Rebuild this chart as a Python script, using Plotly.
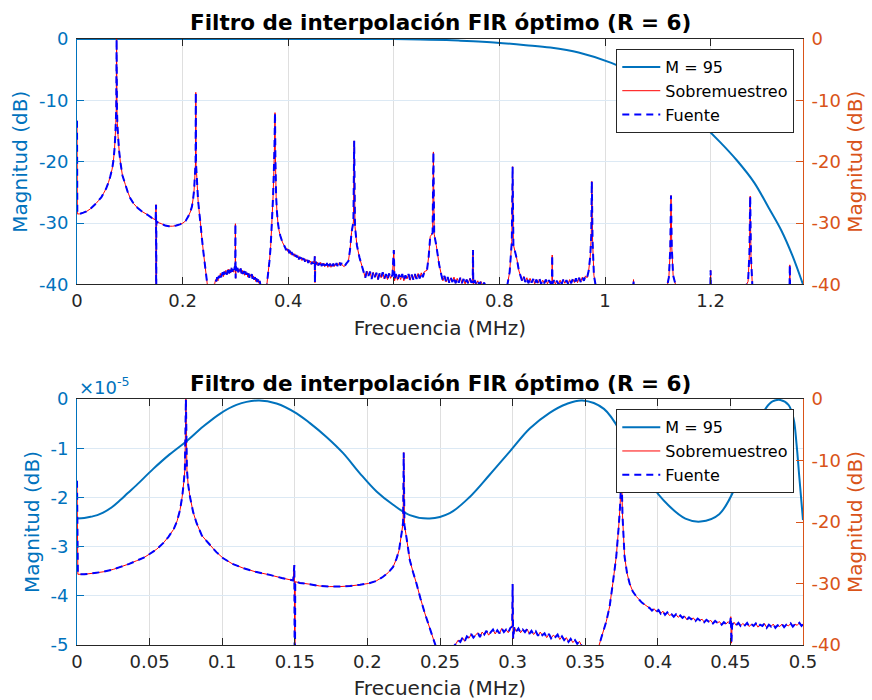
import plotly.graph_objects as go

# Spectrum of the interpolated signal (MHz, dB)
freq_mhz = [
    0.0, 0.0006, 0.005, 0.012, 0.018, 0.025, 0.030, 0.036,
    0.041, 0.046, 0.050, 0.055, 0.0595, 0.063, 0.0665, 0.069,
    0.071, 0.0725, 0.0735, 0.0743, 0.0750, 0.0757, 0.0765, 0.0778,
    0.080, 0.0824, 0.086, 0.0915, 0.096, 0.1007, 0.107, 0.1145,
    0.123, 0.1328, 0.141, 0.1489, 0.1497, 0.1500, 0.1503, 0.1535,
    0.160, 0.167, 0.174, 0.181, 0.188, 0.195, 0.2005, 0.206,
    0.2108, 0.2145, 0.2177, 0.220, 0.2218, 0.2237, 0.2246, 0.2250,
    0.2255, 0.2269, 0.2292, 0.2315, 0.2338, 0.2365, 0.2395, 0.243,
    0.2464, 0.249, 0.253, 0.257, 0.2595, 0.2610, 0.2625, 0.2640,
    0.2655, 0.2670, 0.2685, 0.2700, 0.2715, 0.2730, 0.2745, 0.2760,
    0.2775, 0.2790, 0.2805, 0.2820, 0.2835, 0.2850, 0.2865, 0.2880,
    0.2895, 0.2910, 0.2925, 0.2940, 0.2955, 0.2970, 0.2985, 0.2997,
    0.3000, 0.3004, 0.3012, 0.3025, 0.3040, 0.3055, 0.3070, 0.3085,
    0.3100, 0.3115, 0.3130, 0.3145, 0.3160, 0.3175, 0.3190, 0.3205,
    0.3220, 0.3235, 0.3250, 0.3265, 0.3280, 0.3295, 0.3310, 0.3325,
    0.3340, 0.3355, 0.3370, 0.3385, 0.3400, 0.3415, 0.3430, 0.3445,
    0.3460, 0.3475, 0.352, 0.356, 0.3595, 0.3615, 0.3645, 0.3668,
    0.369, 0.3714, 0.3730, 0.3740, 0.3750, 0.3757, 0.3771, 0.3788,
    0.3806, 0.3828, 0.3852, 0.389, 0.3944, 0.3960, 0.3975, 0.3990,
    0.4005, 0.4020, 0.4035, 0.4050, 0.4065, 0.4080, 0.4095, 0.4110,
    0.4125, 0.4140, 0.4155, 0.4170, 0.4185, 0.4200, 0.4215, 0.4230,
    0.4245, 0.4260, 0.4275, 0.4290, 0.4305, 0.4320, 0.4335, 0.4350,
    0.4365, 0.4380, 0.4395, 0.4410, 0.4425, 0.4440, 0.4455, 0.4470,
    0.4485, 0.4497, 0.4503, 0.4507, 0.4512, 0.4525, 0.4540, 0.4555,
    0.4570, 0.4585, 0.4600, 0.4615, 0.4630, 0.4645, 0.4660, 0.4675,
    0.4690, 0.4705, 0.4720, 0.4735, 0.4750, 0.4765, 0.4780, 0.4795,
    0.4810, 0.4825, 0.4840, 0.4855, 0.4870, 0.4885, 0.4900, 0.4915,
    0.4930, 0.4945, 0.4960, 0.4975, 0.4990, 0.5005, 0.5020, 0.506,
    0.510, 0.514, 0.517, 0.520, 0.5235, 0.5250, 0.5265, 0.5301,
    0.535, 0.5427, 0.546, 0.549, 0.552, 0.555, 0.558, 0.561,
    0.564, 0.567, 0.570, 0.573, 0.576, 0.579, 0.582, 0.585,
    0.588, 0.591, 0.594, 0.5975, 0.6000, 0.6015, 0.604, 0.607,
    0.610, 0.613, 0.616, 0.619, 0.622, 0.625, 0.628, 0.631,
    0.634, 0.637, 0.640, 0.643, 0.646, 0.649, 0.652, 0.655,
    0.658, 0.6628, 0.666, 0.669, 0.6735, 0.6750, 0.6765, 0.6804,
    0.686, 0.690, 0.693, 0.696, 0.699, 0.702, 0.705, 0.708,
    0.711, 0.714, 0.717, 0.720, 0.723, 0.726, 0.729, 0.732,
    0.735, 0.738, 0.741, 0.744, 0.747, 0.7495, 0.7500, 0.7505,
    0.753, 0.756, 0.759, 0.762, 0.765, 0.768, 0.771, 0.775,
    0.785, 0.800, 0.812, 0.8194, 0.8235, 0.8250, 0.8265, 0.8334,
    0.837, 0.840, 0.843, 0.846, 0.849, 0.852, 0.855, 0.858,
    0.861, 0.864, 0.867, 0.870, 0.873, 0.876, 0.879, 0.882,
    0.885, 0.888, 0.891, 0.894, 0.897, 0.8995, 0.9000, 0.9005,
    0.903, 0.906, 0.909, 0.912, 0.915, 0.918, 0.921, 0.924,
    0.927, 0.930, 0.933, 0.936, 0.939, 0.942, 0.945, 0.948,
    0.951, 0.954, 0.957, 0.960, 0.963, 0.966, 0.969, 0.972,
    0.974, 0.9750, 0.9765, 0.979, 0.983, 0.995, 1.020, 1.045,
    1.0535, 1.0540, 1.0545, 1.070, 1.100, 1.115, 1.121, 1.1235,
    1.1250, 1.1265, 1.129, 1.135, 1.160, 1.190, 1.1995, 1.2000,
    1.2005, 1.230, 1.260, 1.271, 1.2735, 1.2750, 1.2765, 1.279,
    1.290, 1.320, 1.3495, 1.3500, 1.3505, 1.365, 1.375,
]
spectrum_db = [
    -13.3, -28.5, -28.5, -28.3, -28.1, -27.7, -27.3, -26.8,
    -26.3, -25.8, -25.2, -24.4, -23.4, -22.4, -21.2, -19.8,
    -18.0, -15.8, -13.6, -11.5, 0.0, -11.5, -13.8, -15.9,
    -18.4, -20.2, -22.2, -23.7, -24.9, -25.9, -26.8, -27.5,
    -28.1, -28.6, -29.1, -29.5, -27.0, -52.0, -29.7, -29.9,
    -30.1, -30.4, -30.5, -30.5, -30.4, -30.2, -30.0, -29.6,
    -28.9, -28.2, -27.3, -26.0, -24.6, -21.6, -20.0, -8.7,
    -20.5, -22.5, -26.2, -28.2, -30.0, -32.4, -34.8, -37.3,
    -39.7, -41.5, -43.5, -42.0, -40.2, -39.8, -39.2, -39.5,
    -38.8, -39.4, -38.6, -38.9, -38.2, -38.8, -38.4, -38.0,
    -38.7, -37.9, -38.3, -37.7, -38.4, -37.9, -37.5, -38.2,
    -37.6, -38.1, -37.3, -37.9, -37.5, -38.0, -37.2, -37.0,
    -30.1, -39.0, -37.1, -37.8, -37.3, -38.0, -37.5, -37.9,
    -37.4, -38.2, -37.7, -38.3, -37.8, -38.5, -37.9, -38.4,
    -38.1, -38.8, -38.2, -38.9, -38.4, -38.7, -38.3, -39.1,
    -38.6, -39.2, -38.8, -39.5, -39.0, -39.6, -39.2, -39.8,
    -39.4, -40.1, -42.0, -41.5, -40.1, -38.5, -36.2, -33.8,
    -30.0, -25.6, -21.0, -17.5, -12.0, -19.0, -25.6, -28.3,
    -30.0, -31.3, -32.1, -33.1, -34.0, -34.4, -34.1, -34.6,
    -34.3, -34.9, -34.5, -35.1, -34.7, -35.2, -35.0, -35.4,
    -35.0, -35.5, -35.2, -35.6, -35.3, -35.9, -35.5, -35.8,
    -35.6, -36.1, -35.7, -36.0, -35.8, -36.3, -35.9, -36.2,
    -36.0, -36.5, -36.1, -36.4, -36.2, -36.7, -36.3, -36.6,
    -36.2, -36.5, -35.4, -39.7, -36.7, -36.3, -36.8, -36.4,
    -36.9, -36.5, -36.8, -36.4, -37.0, -36.6, -36.9, -36.5,
    -37.1, -36.7, -36.9, -36.5, -37.2, -36.7, -37.0, -36.6,
    -37.2, -36.8, -37.0, -36.6, -37.1, -36.7, -36.9, -36.5,
    -37.0, -36.6, -36.8, -36.4, -36.9, -36.5, -36.8, -37.1,
    -36.6, -36.2, -34.4, -31.5, -29.8, -16.6, -30.5, -33.6,
    -35.6, -37.9, -38.9, -37.8, -38.6, -37.9, -39.1, -38.0,
    -38.8, -38.1, -39.2, -38.2, -38.9, -38.0, -39.1, -38.3,
    -39.2, -38.2, -39.0, -38.4, -34.4, -39.4, -38.3, -39.3,
    -38.4, -39.2, -38.3, -39.4, -38.5, -39.1, -38.3, -39.3,
    -38.4, -39.2, -38.3, -39.1, -38.2, -39.0, -38.1, -38.8,
    -37.9, -37.7, -35.5, -32.2, -31.6, -18.4, -31.8, -33.6,
    -36.8, -38.4, -39.4, -38.6, -39.6, -38.8, -39.7, -38.9,
    -39.6, -38.8, -39.8, -39.0, -39.7, -38.9, -39.8, -39.1,
    -39.9, -39.2, -39.8, -39.0, -39.7, -39.4, -34.4, -39.9,
    -39.3, -39.9, -39.4, -40.1, -39.5, -40.2, -39.7, -40.4,
    -42.0, -43.0, -41.5, -38.0, -33.0, -20.8, -33.5, -36.0,
    -37.8, -38.6, -39.4, -38.7, -39.6, -38.9, -39.8, -39.0,
    -39.7, -39.1, -39.9, -39.2, -39.8, -39.1, -39.9, -39.3,
    -39.8, -39.2, -39.9, -39.3, -39.8, -39.5, -35.2, -39.9,
    -39.3, -39.9, -39.4, -40.0, -39.3, -39.9, -39.2, -39.8,
    -39.3, -39.9, -39.2, -39.8, -39.1, -39.7, -39.0, -39.7,
    -38.9, -39.6, -38.8, -39.4, -38.6, -38.9, -37.8, -35.5,
    -32.0, -23.2, -33.0, -38.5, -40.5, -42.5, -43.0, -42.0,
    -40.5, -39.2, -40.5, -42.5, -43.0, -41.5, -38.8, -34.5,
    -25.5, -34.0, -38.5, -40.5, -42.5, -42.0, -40.5, -37.7,
    -40.5, -42.5, -41.5, -39.5, -35.0, -25.6, -35.5, -40.0,
    -42.5, -43.0, -40.5, -36.8, -40.5, -42.0, -42.5,
]
assert len(freq_mhz) == len(spectrum_db)

# Magnitude response of the M = 95 interpolation filter (MHz, dB)
filter_freq_mhz = [
    0.000, 0.005, 0.010, 0.014, 0.018, 0.024, 0.0296, 0.035,
    0.041, 0.0525, 0.064, 0.0754,
    0.0869, 0.0984, 0.1098, 0.1248, 0.1374, 0.1512, 0.1604, 0.1718,
    0.1833, 0.1948, 0.2063, 0.2177, 0.2292, 0.2429, 0.2567, 0.2705,
    0.2842, 0.298, 0.3118, 0.3255, 0.3372, 0.348, 0.3629, 0.378,
    0.3932, 0.4073, 0.419, 0.4295, 0.4423, 0.454, 0.462, 0.469,
    0.4746, 0.479, 0.4844, 0.490, 0.4935, 0.4955, 0.4975, 0.500,
    0.55, 0.60, 0.65, 0.70, 0.726, 0.76, 0.7954, 0.85,
    0.8965, 0.95, 1.012, 1.06, 1.10, 1.14, 1.173, 1.218,
    1.25, 1.2826, 1.31, 1.334, 1.355, 1.375,
]
filter_db = [
    -2.43e-5, -2.42e-5, -2.39e-5, -2.36e-5, -2.31e-5, -2.20e-5, -2.06e-5, -1.91e-5,
    -1.75e-5, -1.42e-5, -1.12e-5, -0.86e-5,
    -0.56e-5, -0.30e-5, -0.12e-5, -0.03e-5, -0.09e-5, -0.29e-5, -0.49e-5, -0.77e-5,
    -1.10e-5, -1.51e-5, -1.88e-5, -2.15e-5, -2.36e-5, -2.43e-5, -2.32e-5, -1.99e-5,
    -1.54e-5, -1.07e-5, -0.60e-5, -0.28e-5, -0.10e-5, -0.03e-5, -0.20e-5, -0.85e-5,
    -1.65e-5, -2.16e-5, -2.43e-5, -2.49e-5, -2.34e-5, -1.75e-5, -1.05e-5, -0.50e-5,
    -0.18e-5, -0.05e-5, -0.02e-5, -0.12e-5, -0.40e-5, -0.90e-5, -1.60e-5, -2.46e-5,
    -0.003, -0.02, -0.08, -0.18, -0.27, -0.42, -0.6, -1.0,
    -1.4, -2.2, -3.9, -5.9, -8.0, -10.5, -13.0, -16.8,
    -19.8, -23.4, -27.5, -31.2, -35.3, -40.0,
]
assert len(filter_freq_mhz) == len(filter_db)

x_ticks_top = [0, 0.2, 0.4, 0.6, 0.8, 1.0, 1.2]
x_labels_top = ["0", "0.2", "0.4", "0.6", "0.8", "1", "1.2"]
x_ticks_bottom = [0, 0.05, 0.1, 0.15, 0.2, 0.25, 0.3, 0.35, 0.4, 0.45, 0.5]
x_labels_bottom = ["0", "0.05", "0.1", "0.15", "0.2", "0.25", "0.3", "0.35", "0.4", "0.45", "0.5"]
db_ticks = [-40, -30, -20, -10, 0]
db_labels = ["-40", "-30", "-20", "-10", "0"]
ripple_ticks = [-5e-5, -4e-5, -3e-5, -2e-5, -1e-5, 0]
ripple_labels = ["-5", "-4", "-3", "-2", "-1", "0"]

title_text = "Filtro de interpolación FIR óptimo (R = 6)"
x_title = "Frecuencia (MHz)"
y_title = "Magnitud (dB)"

LEFT = "#0072BD"
RIGHT = "#D95319"
DARK = "#262626"
FONT = "DejaVu Sans"

# pass-band detail: only the part of the response inside 0-0.5 MHz
band_f = [f for f in filter_freq_mhz if f <= 0.5]
band_db = filter_db[:len(band_f)]

fig = go.Figure()

for xa, ya_l, ya_r, leg, ff, fd in [
    ("x", "y", "y2", "legend", filter_freq_mhz, filter_db),
    ("x2", "y3", "y4", "legend2", band_f, band_db),
]:
    fig.add_trace(go.Scatter(
        x=ff, y=fd, xaxis=xa, yaxis=ya_l, mode="lines", name="M = 95",
        line=dict(color=LEFT, width=2, shape="spline", smoothing=1.0,
                  simplify=False),
        legend=leg, hoverinfo="skip"))
    fig.add_trace(go.Scatter(
        x=freq_mhz, y=spectrum_db, xaxis=xa, yaxis=ya_r, mode="lines",
        name="Sobremuestreo", line=dict(color="#FF0000", width=1, simplify=False),
        legend=leg, hoverinfo="skip"))
    fig.add_trace(go.Scatter(
        x=freq_mhz, y=spectrum_db, xaxis=xa, yaxis=ya_r, mode="lines",
        name="Fuente",
        line=dict(color="#0000FF", width=2, dash="7px,5px", simplify=False),
        legend=leg, hoverinfo="skip"))

tick_font = dict(family=FONT, size=18)
label_font = dict(family=FONT, size=20)


def x_axis(rng, tv, tt, anchor):
    return dict(
        range=rng, anchor=anchor, domain=[0, 1], automargin=False,
        tickvals=tv, ticktext=tt, ticks="inside", ticklen=7,
        tickcolor=DARK, showline=True, linecolor=DARK, linewidth=1,
        mirror="ticks", showgrid=True, gridcolor="#DFDFDF", zeroline=False,
        tickfont=dict(color=DARK, **tick_font),
        title=dict(text=x_title, font=dict(color=DARK, **label_font), standoff=10),
    )


def left_axis(rng, tv, tt, dom, anchor):
    return dict(
        range=rng, domain=dom, anchor=anchor, side="left", automargin=False,
        tickvals=tv, ticktext=tt, ticks="inside", ticklen=7,
        tickcolor=LEFT, showline=True, linecolor=LEFT, linewidth=1,
        showgrid=True, gridcolor="#DCE9F4", zeroline=False,
        ticklabelstandoff=4,
        tickfont=dict(color=LEFT, **tick_font),
        title=dict(text=y_title, font=dict(color=LEFT, **label_font), standoff=5),
    )


def right_axis(over, anchor):
    return dict(
        range=[-40, 0], overlaying=over, anchor=anchor, side="right",
        automargin=False,
        tickvals=db_ticks, ticktext=db_labels, ticks="inside", ticklen=7,
        tickcolor=RIGHT, showline=True, linecolor=RIGHT, linewidth=1,
        showgrid=False, zeroline=False, ticklabelstandoff=4,
        tickfont=dict(color=RIGHT, **tick_font),
        title=dict(text=y_title, font=dict(color=RIGHT, **label_font), standoff=8),
    )


legend_style = dict(
    bgcolor="white", bordercolor=DARK, borderwidth=1,
    font=dict(family=FONT, size=16, color="#000000"),
    xanchor="right", yanchor="top", itemwidth=38,
    tracegroupgap=0,
)

fig.update_layout(
    width=872, height=700,
    margin=dict(l=77, r=69, t=39, b=55),
    paper_bgcolor="white", plot_bgcolor="white",
    font=dict(family=FONT, color=DARK),
    showlegend=True,
    xaxis=x_axis([0, 1.375], x_ticks_top, x_labels_top, "y"),
    yaxis=left_axis([-40, 0], db_ticks, db_labels, [0.5949, 1.0], "x"),
    yaxis2=right_axis("y", "x"),
    xaxis2=x_axis([0, 0.5], x_ticks_bottom, x_labels_bottom, "y3"),
    yaxis3=left_axis([-5e-5, 0], ripple_ticks, ripple_labels, [0.0, 0.4059], "x2"),
    yaxis4=right_axis("y3", "x2"),
    legend=dict(x=0.988, y=0.9835, **legend_style),
    legend2=dict(x=0.988, y=0.389, **legend_style),
    annotations=[
        dict(text="<b>" + title_text + "</b>", x=0.5, y=1.028, xref="paper",
             yref="paper", xanchor="center", yanchor="middle", showarrow=False,
             font=dict(family=FONT, size=21.5, color="#000000")),
        dict(text="<b>" + title_text + "</b>", x=0.5, y=0.4323, xref="paper",
             yref="paper", xanchor="center", yanchor="middle", showarrow=False,
             font=dict(family=FONT, size=21.5, color="#000000")),
        dict(text="×10<sup>-5</sup>", x=0.0, y=0.427, xref="paper",
             yref="paper", xanchor="left", yanchor="middle", showarrow=False,
             font=dict(family=FONT, size=18, color=LEFT)),
    ],
)

fig.write_html("out.html", config={"displayModeBar": False})
